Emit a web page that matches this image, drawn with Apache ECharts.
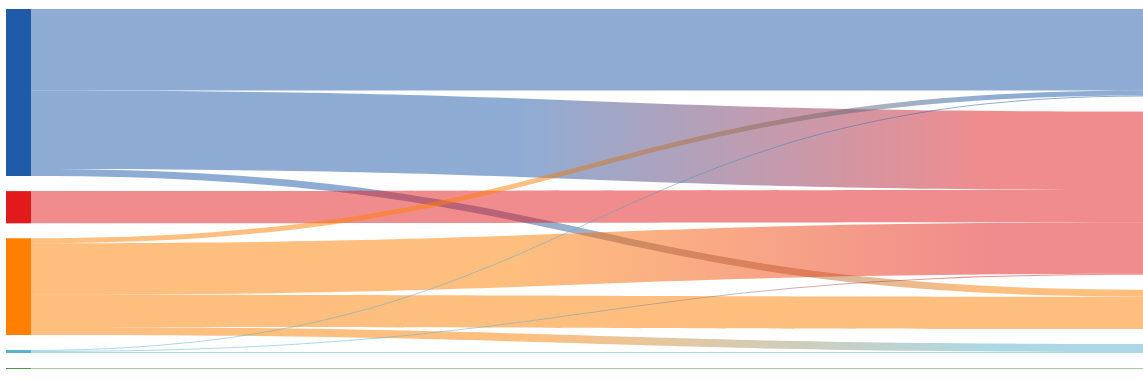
<!DOCTYPE html>
<html>
<head>
<meta charset="utf-8">
<script src="https://cdn.jsdelivr.net/npm/echarts@6/dist/echarts.min.js"></script>
<style>html,body{margin:0;padding:0;background:#fff}#c{width:1143px;height:381px}</style>
</head>
<body>
<div id="c"></div>
<script>
// Node groups (left = before, right = after)
const groups = ['Group 1', 'Group 2', 'Group 3', 'Group 4', 'Group 5'];
const groupColors = ['#1f5ba9', '#e31a1c', '#ff7f00', '#5ab3cc', '#4a9a4a'];
// Flows: source group index -> target group index, value
const linkSource = [0, 0, 0, 1, 2, 2, 2, 2, 3, 3, 3, 4];
const linkTarget = [0, 1, 2, 1, 0, 1, 2, 3, 0, 1, 3, 4];
const linkValues = [81, 78, 7, 32, 5, 51, 32, 8, 1, 1, 1, 1];

const nodes = [];
groups.forEach((g, i) => nodes.push({ name: g + ' (before)', depth: 0, itemStyle: { color: groupColors[i] }, label: { show: true } }));
groups.forEach((g, i) => nodes.push({ name: g + ' (after)', depth: 1, itemStyle: { color: groupColors[i] }, label: { show: false } }));
const links = linkValues.map((v, k) => {
  const c1 = groupColors[linkSource[k]], c2 = groupColors[linkTarget[k]];
  return {
    source: groups[linkSource[k]] + ' (before)',
    target: groups[linkTarget[k]] + ' (after)',
    value: v,
    lineStyle: {
      color: new echarts.graphic.LinearGradient(0, 0, 1, 0, [
        { offset: 0, color: c1 }, { offset: 0.44, color: c1 },
        { offset: 0.86, color: c2 }, { offset: 1, color: c2 }
      ])
    }
  };
});

const chart = echarts.init(document.getElementById('c'));
chart.setOption({
  animation: false,
  series: [{
    type: 'sankey',
    left: 6,
    top: 9,
    width: 1164,
    height: 360,
    nodeWidth: 25,
    nodeGap: 15,
    layoutIterations: 0,
    draggable: false,
    data: nodes,
    links: links,
    label: { position: 'left', color: '#666', fontSize: 12, fontFamily: 'DejaVu Sans' },
    itemStyle: { borderWidth: 0 },
    lineStyle: { opacity: 0.5, curveness: 0.5 },
    emphasis: { disabled: true }
  }]
});
</script>
</body>
</html>
